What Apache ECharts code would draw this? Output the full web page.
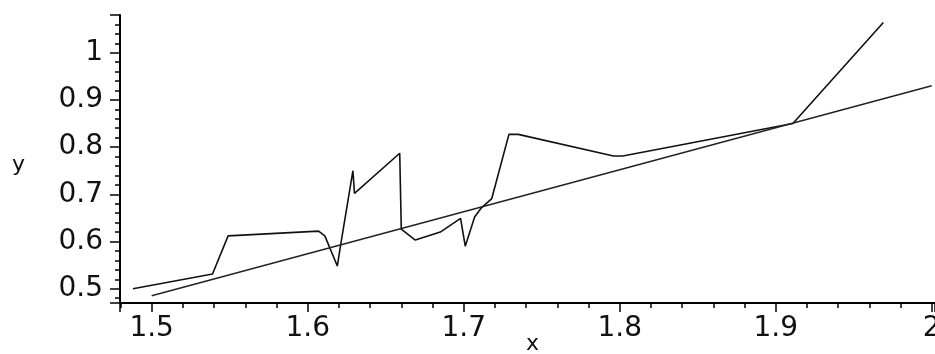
<!DOCTYPE html>
<html>
<head>
<meta charset="utf-8">
<script src="https://cdn.jsdelivr.net/npm/echarts@6/dist/echarts.min.js"></script>
<style>
html,body{margin:0;padding:0;background:#fff;}
#main{width:935px;height:354px;}
</style>
</head>
<body>
<div id="main"></div>
<script>
// jagged data curve
var curveX = [1.488, 1.539, 1.549, 1.607, 1.611, 1.619, 1.621, 1.629, 1.630, 1.659, 1.660, 1.669, 1.685, 1.698, 1.701, 1.707, 1.711, 1.718, 1.729, 1.735, 1.796, 1.802, 1.911, 1.969];
var curveY = [0.500, 0.531, 0.612, 0.622, 0.612, 0.548, 0.590, 0.750, 0.702, 0.787, 0.626, 0.603, 0.620, 0.649, 0.590, 0.652, 0.670, 0.691, 0.827, 0.827, 0.781, 0.781, 0.850, 1.064];
// straight fitted line
var fitX = [1.5, 2.0];
var fitY = [0.485, 0.930];
// axis labels
var xName = 'x';
var yName = 'y';

function pairs(xs, ys) {
  var out = [];
  for (var i = 0; i < xs.length; i++) out.push([xs[i], ys[i]]);
  return out;
}

var FONT = 'DejaVu Sans';
var chart = echarts.init(document.getElementById('main'), null, {renderer: 'canvas'});
chart.setOption({
  animation: false,
  backgroundColor: '#fff',
  grid: {left: 120, right: 0, top: 15, bottom: 51, containLabel: false, outerBoundsMode: 'none'},
  xAxis: {
    type: 'value',
    min: 1.4797,
    max: 2.0021,
    splitNumber: 5,
    name: xName,
    nameLocation: 'middle',
    nameGap: 30,
    nameMoveOverlap: false,
    nameTextStyle: {fontFamily: FONT, fontSize: 22, color: '#111', padding: [0, 0, 0, 10]},
    axisLine: {show: true, onZero: false, lineStyle: {color: '#000', width: 2}},
    axisTick: {show: true, inside: false, length: 9, lineStyle: {color: '#000', width: 1.5}},
    minorTick: {show: true, splitNumber: 5, length: 5, lineStyle: {color: '#000', width: 1.5}},
    axisLabel: {show: true, margin: 12, fontFamily: FONT, fontSize: 28, color: '#111',
      showMinLabel: false, showMaxLabel: false, hideOverlap: false,
      formatter: function (v) { return (Math.abs(v - 2) < 1e-9) ? '2' : v.toFixed(1); }},
    splitLine: {show: false},
    minorSplitLine: {show: false}
  },
  yAxis: {
    type: 'value',
    min: 0.4697,
    max: 1.0799,
    splitNumber: 5,
    name: yName,
    nameLocation: 'middle',
    nameRotate: 0,
    nameGap: 95,
    nameMoveOverlap: false,
    nameTextStyle: {fontFamily: FONT, fontSize: 22, color: '#111', verticalAlign: 'top', lineHeight: 12},
    axisLine: {show: true, onZero: false, lineStyle: {color: '#000', width: 2}},
    axisTick: {show: true, inside: false, length: 10, lineStyle: {color: '#000', width: 1.5}},
    minorTick: {show: true, splitNumber: 5, length: 5, lineStyle: {color: '#000', width: 1.5}},
    axisLabel: {show: true, margin: 17, fontFamily: FONT, fontSize: 28, color: '#111',
      showMinLabel: false, showMaxLabel: false, hideOverlap: false,
      formatter: function (v) { return (Math.abs(v - 1) < 1e-9) ? '1' : v.toFixed(1); }},
    splitLine: {show: false},
    minorSplitLine: {show: false}
  },
  series: [
    {
      type: 'line',
      data: pairs(curveX, curveY),
      showSymbol: false,
      symbol: 'none',
      lineStyle: {color: '#111', width: 1.6},
      silent: true
    },
    {
      type: 'line',
      data: pairs(fitX, fitY),
      showSymbol: false,
      symbol: 'none',
      lineStyle: {color: '#222', width: 1.4},
      silent: true
    }
  ]
});
</script>
</body>
</html>
